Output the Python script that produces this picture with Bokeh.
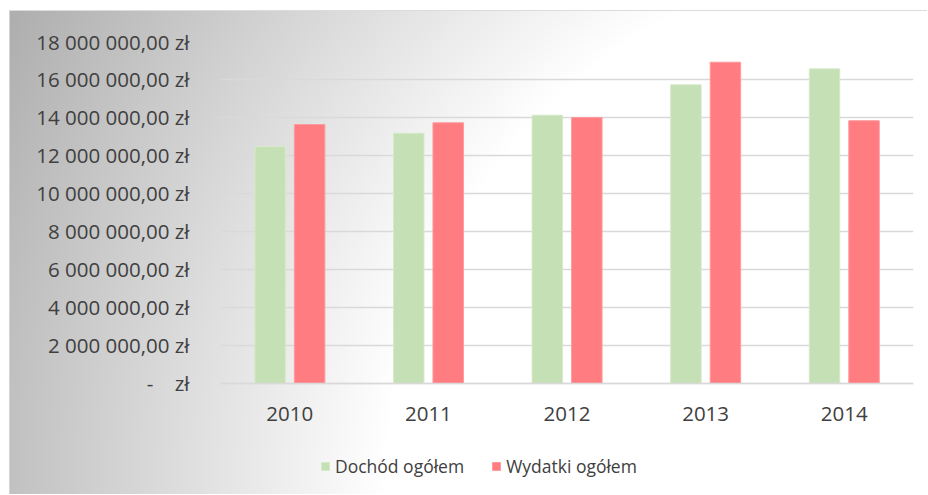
from bokeh.plotting import figure
from bokeh.models import (FactorRange, Range1d, FixedTicker, Legend, LegendItem,
                          ColumnDataSource)
from bokeh.transform import dodge
from bokeh.embed import file_html
from bokeh.resources import INLINE

years = ["2010", "2011", "2012", "2013", "2014"]
dochod = [12470000, 13170000, 14120000, 15720000, 16560000]
wydatki = [13630000, 13720000, 14000000, 16910000, 13830000]
y_ticks = [0, 2000000, 4000000, 6000000, 8000000, 10000000, 12000000,
           14000000, 16000000, 18000000]
y_tick_labels = ["-\u00a0\u00a0\u00a0\u00a0zł", "2 000 000,00 zł", "4 000 000,00 zł", "6 000 000,00 zł",
                 "8 000 000,00 zł", "10 000 000,00 zł", "12 000 000,00 zł",
                 "14 000 000,00 zł", "16 000 000,00 zł", "18 000 000,00 zł"]
series_names = ["Dochód ogółem", "Wydatki ogółem"]

source = ColumnDataSource(dict(year=years, dochod=dochod, wydatki=wydatki))

FONT = "Open Sans"
TXT = "#404040"

# frame runs to the bottom of the chart so the legend sits inside it;
# the value axis starts below zero only to leave room for the category axis and legend
p = figure(x_range=FactorRange(*years, range_padding=0),
           y_range=Range1d(-5900000, 18000000),
           width=918, height=484, output_backend="svg", toolbar_location=None,
           min_border_left=210, min_border_right=15, min_border_top=30,
           min_border_bottom=0)
p.styles = {
    "margin-left": "9px", "margin-top": "10px",
    "border-left": "1px solid #d4d4d4", "border-top": "1px solid #dcdcdc",
    "background": "radial-gradient(circle farthest-corner at right bottom, #ffffff 0px, #ffffff 540px, #adadad 1040px)",
}
p.background_fill_color = None
p.border_fill_color = None
p.outline_line_color = None

r1 = p.vbar(x=dodge("year", -0.142, range=p.x_range), top="dochod", width=0.22,
            source=source, fill_color="#c5e0b4", line_color="#d6eacb", line_width=1)
r2 = p.vbar(x=dodge("year", 0.143, range=p.x_range), top="wydatki", width=0.22,
            source=source, fill_color="#ff7c80", line_color="#ff9a9d", line_width=1)

p.xgrid.grid_line_color = None
p.ygrid.grid_line_color = "#d9d9d9"
p.ygrid.grid_line_width = 1.5
p.ygrid.ticker = FixedTicker(ticks=y_ticks)

p.yaxis.ticker = FixedTicker(ticks=y_ticks)
p.yaxis.major_label_overrides = {t: l for t, l in zip(y_ticks, y_tick_labels)}
p.yaxis.axis_line_color = None
p.yaxis.major_tick_line_color = None
p.yaxis.minor_tick_line_color = None
p.yaxis.major_label_standoff = 25
p.yaxis.major_label_text_font = FONT
p.yaxis.major_label_text_font_size = "20.5px"
p.yaxis.major_label_text_color = TXT

p.xaxis.fixed_location = 0
p.xaxis.axis_line_color = "#d9d9d9"
p.xaxis.axis_line_width = 1.5
p.xaxis.major_tick_line_color = None
p.xaxis.minor_tick_line_color = None
p.xaxis.major_label_standoff = 18
p.xaxis.major_label_text_font = FONT
p.xaxis.major_label_text_font_size = "20.5px"
p.xaxis.major_label_text_color = TXT

legend = Legend(items=[LegendItem(label=series_names[0], renderers=[r1]),
                       LegendItem(label=series_names[1], renderers=[r2])],
                orientation="horizontal", location=(100, 17),
                padding=0, margin=0, spacing=27, label_standoff=5,
                glyph_width=10, glyph_height=10,
                label_text_font=FONT, label_text_font_size="17.5px",
                label_text_color=TXT,
                border_line_color=None, background_fill_alpha=0)
p.add_layout(legend, "center")

open("out.html", "w").write(file_html(p, INLINE))
